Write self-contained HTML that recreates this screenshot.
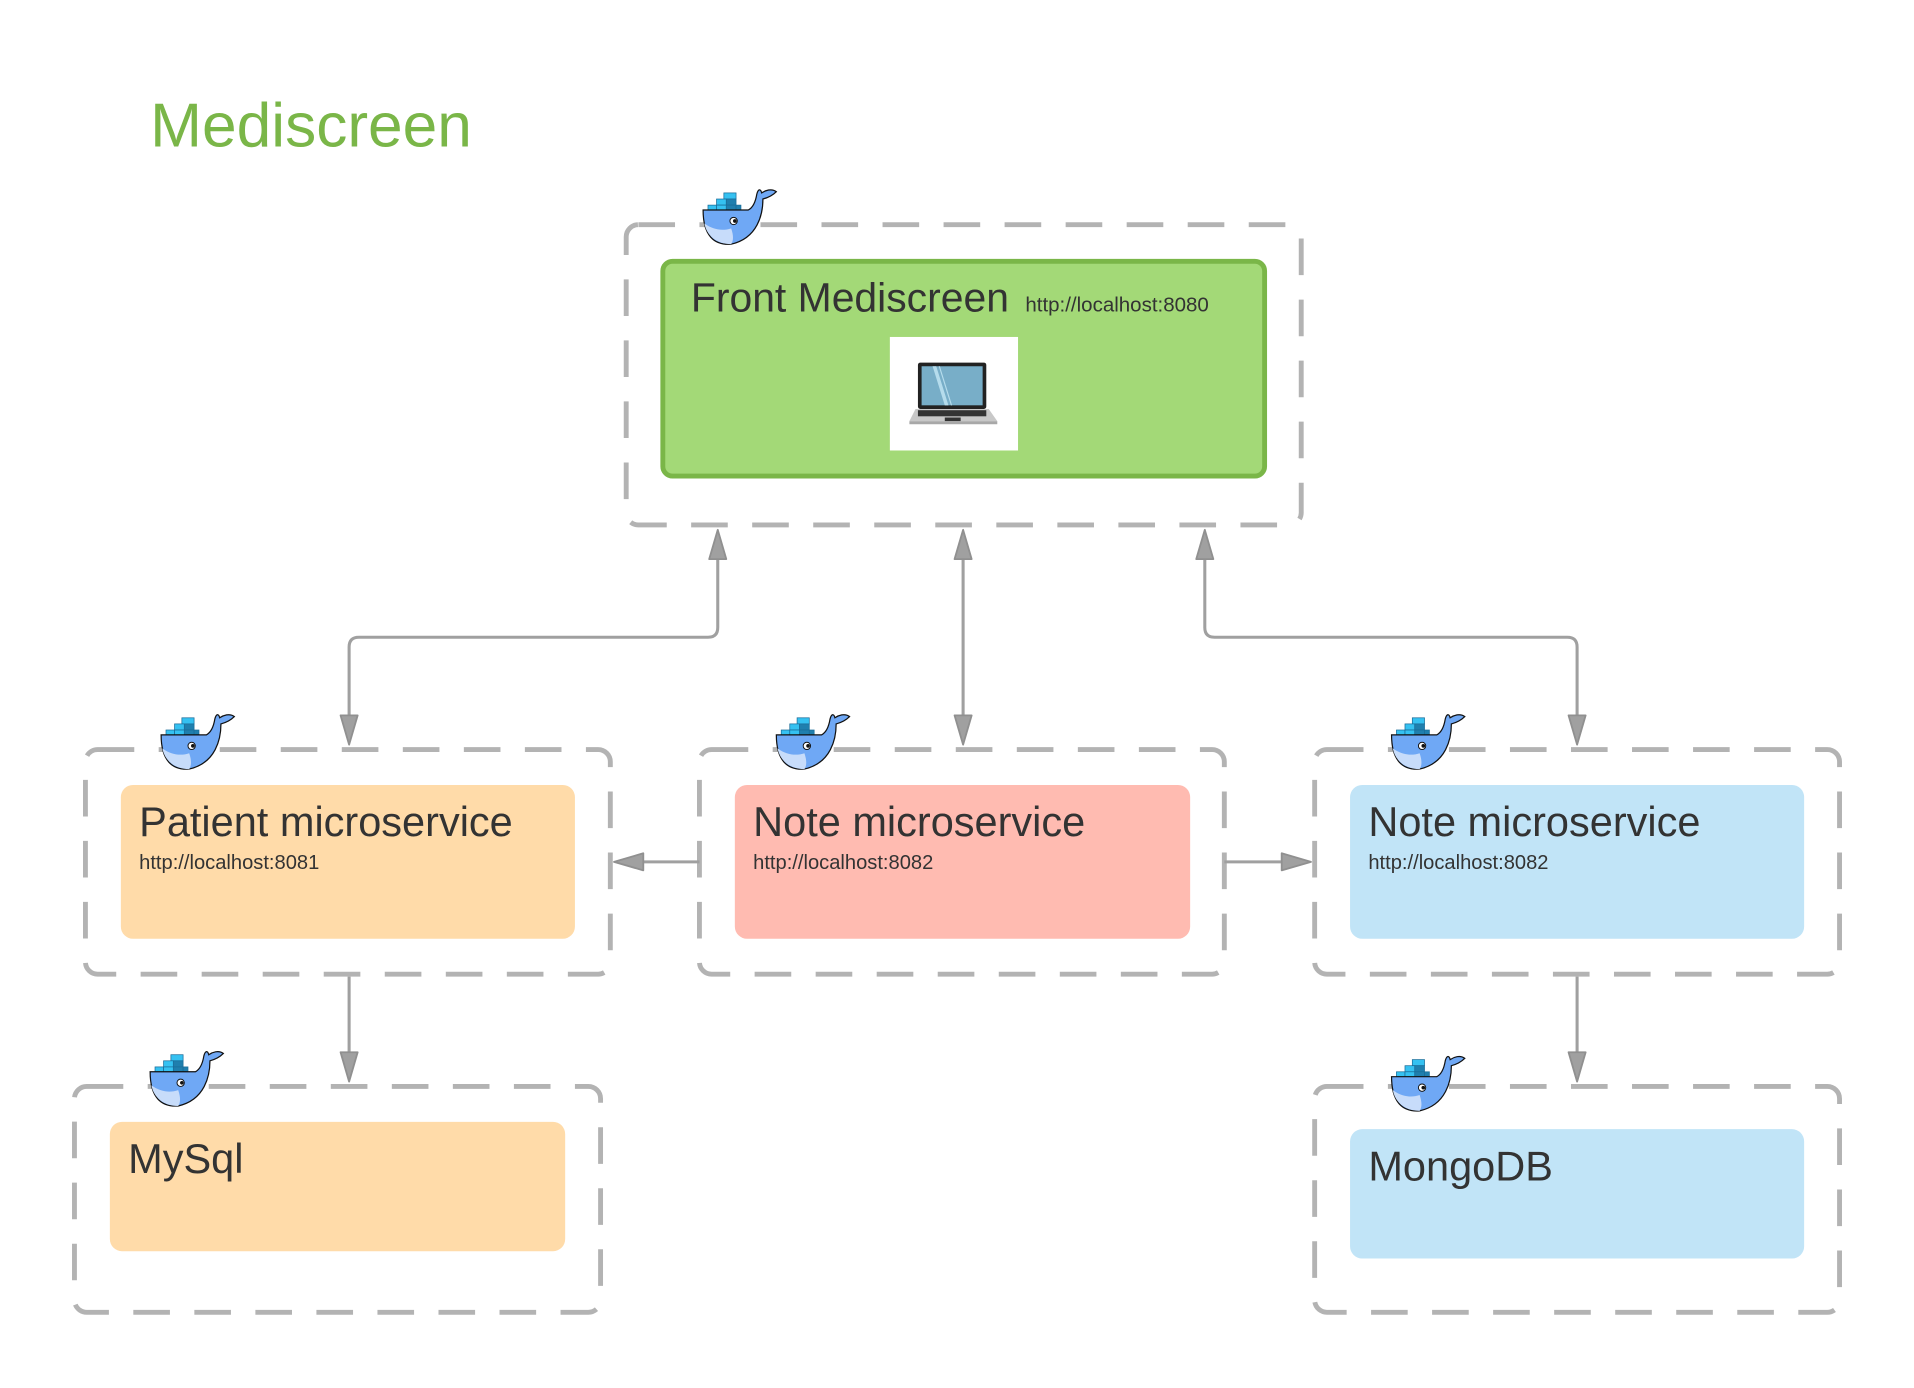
<!DOCTYPE html>
<html><head><meta charset="utf-8"><style>
html,body{margin:0;padding:0;background:#fff;}
svg{display:block;}
text{font-family:"Liberation Sans",sans-serif;fill:#333;}
</style></head><body>
<svg width="1914" height="1388" viewBox="0 0 1568 1137" xmlns="http://www.w3.org/2000/svg">
<defs>
<symbol id="whale" viewBox="0 0 62 48">
  <rect x="18" y="5" width="10" height="5" fill="#35c1f1" stroke="#1a6d9a" stroke-width="0.6"/>
  <rect x="12" y="10" width="8" height="5" fill="#35c1f1" stroke="#1a6d9a" stroke-width="0.6"/>
  <rect x="20" y="10" width="8" height="5" fill="#1f7fae" stroke="#1a6d9a" stroke-width="0.6"/>
  <rect x="5" y="15" width="7" height="4" fill="#35c1f1" stroke="#1a6d9a" stroke-width="0.6"/>
  <rect x="12" y="15" width="8" height="4" fill="#35c1f1" stroke="#1a6d9a" stroke-width="0.6"/>
  <rect x="20" y="15" width="8" height="4" fill="#1f7fae" stroke="#1a6d9a" stroke-width="0.6"/>
  <rect x="28" y="15" width="4" height="4" fill="#1f7fae" stroke="#1a6d9a" stroke-width="0.6"/>
  <path d="M1 19 H38 C42 17 44 12 45 6 C46 2 48 1 49 5 C52 3 57 1 61 4 C58 7 54 9 50 10 C50 22 46 42 24 47 C10 48 1 40 1 19 Z" fill="#6fa8f5" stroke="#111" stroke-width="1"/>
  <path d="M2 30 C10 36 18 36 24 34 C26 40 26 44 24 47 C12 47 4 40 2 30 Z" fill="#c7dcfa"/>
  <circle cx="26" cy="28" r="3" fill="#fff" stroke="#111" stroke-width="0.8"/>
  <circle cx="27" cy="28" r="1.5" fill="#111"/>
</symbol>
</defs>

<text x="123" y="120" font-size="51" style="fill:#7ab648">Mediscreen</text>

<g fill="none" stroke="#b3b3b3" stroke-width="4" stroke-dasharray="30 20">
  <rect x="513" y="184" width="553" height="246" rx="10"/>
  <rect x="70" y="614" width="430" height="184" rx="10"/>
  <rect x="573" y="614" width="430" height="184" rx="10"/>
  <rect x="1077" y="614" width="430" height="184" rx="10"/>
  <rect x="61" y="890" width="431" height="185" rx="10"/>
  <rect x="1077" y="890" width="430" height="185" rx="10"/>
</g>

<rect x="543" y="214" width="493" height="176" rx="8" fill="#a3d977" stroke="#7ab648" stroke-width="4"/>
<text x="566" y="255" font-size="33.5">Front Mediscreen</text>
<text x="840" y="255" font-size="16.8">http://localhost:8080</text>
<rect x="729" y="276" width="105" height="93" fill="#fff"/>
<g>
  <rect x="752" y="297" width="56" height="38" rx="2" fill="#222"/>
  <rect x="755" y="300" width="50" height="32" fill="#78aec8"/>
  <path d="M764 300 L774 332 L777 332 L767 300 Z M769 300 L779 332 L780 332 L770 300 Z" fill="#b5dcec"/>
  <path d="M750 335 H810 L817 345 H745 Z" fill="#c8c8c8"/>
  <rect x="752" y="336" width="56" height="5" fill="#333"/>
  <rect x="774" y="342" width="13" height="3" fill="#333"/>
  <rect x="745" y="345" width="72" height="2.5" fill="#a8a8a8"/>
</g>

<rect x="99" y="643" width="372" height="126" rx="10" fill="#ffdba9"/>
<text x="114" y="685" font-size="34">Patient microservice</text>
<text x="114" y="712" font-size="16.5">http://localhost:8081</text>

<rect x="602" y="643" width="373" height="126" rx="10" fill="#ffbbb1"/>
<text x="617" y="685" font-size="34">Note microservice</text>
<text x="617" y="712" font-size="16.5">http://localhost:8082</text>

<rect x="1106" y="643" width="372" height="126" rx="10" fill="#c1e4f7"/>
<text x="1121" y="685" font-size="34">Note microservice</text>
<text x="1121" y="712" font-size="16.5">http://localhost:8082</text>

<rect x="90" y="919" width="373" height="106" rx="10" fill="#ffdba9"/>
<text x="105" y="961" font-size="34">MySql</text>

<rect x="1106" y="925" width="372" height="106" rx="10" fill="#c1e4f7"/>
<text x="1121" y="967" font-size="34">MongoDB</text>

<use href="#whale" x="575" y="153" width="62" height="48"/>
<use href="#whale" x="131" y="583" width="62" height="48"/>
<use href="#whale" x="635" y="583" width="62" height="48"/>
<use href="#whale" x="1139" y="583" width="62" height="48"/>
<use href="#whale" x="122" y="859" width="62" height="48"/>
<use href="#whale" x="1139" y="863" width="62" height="48"/>

<g fill="none" stroke="#a0a0a0" stroke-width="2.5">
  <path d="M286 590 V530 Q286 522 294 522 H580 Q588 522 588 514 V455"/>
  <path d="M789 455 V590"/>
  <path d="M987 455 V514 Q987 522 995 522 H1284 Q1292 522 1292 530 V590"/>
  <path d="M573 706 H525"/>
  <path d="M1003 706 H1053"/>
  <path d="M286 800 V866"/>
  <path d="M1292 800 V866"/>
</g>
<g fill="#a0a0a0" stroke="#909090" stroke-width="1.5" stroke-linejoin="round">
  <path d="M588 434 L581 458 L595 458 Z"/>
  <path d="M789 434 L782 458 L796 458 Z"/>
  <path d="M987 434 L980 458 L994 458 Z"/>
  <path d="M286 610 L279 586 L293 586 Z"/>
  <path d="M789 610 L782 586 L796 586 Z"/>
  <path d="M1292 610 L1285 586 L1299 586 Z"/>
  <path d="M503 706 L527 699 L527 713 Z"/>
  <path d="M1074 706 L1050 699 L1050 713 Z"/>
  <path d="M286 886 L279 862 L293 862 Z"/>
  <path d="M1292 886 L1285 862 L1299 862 Z"/>
</g>
</svg>
</body></html>
